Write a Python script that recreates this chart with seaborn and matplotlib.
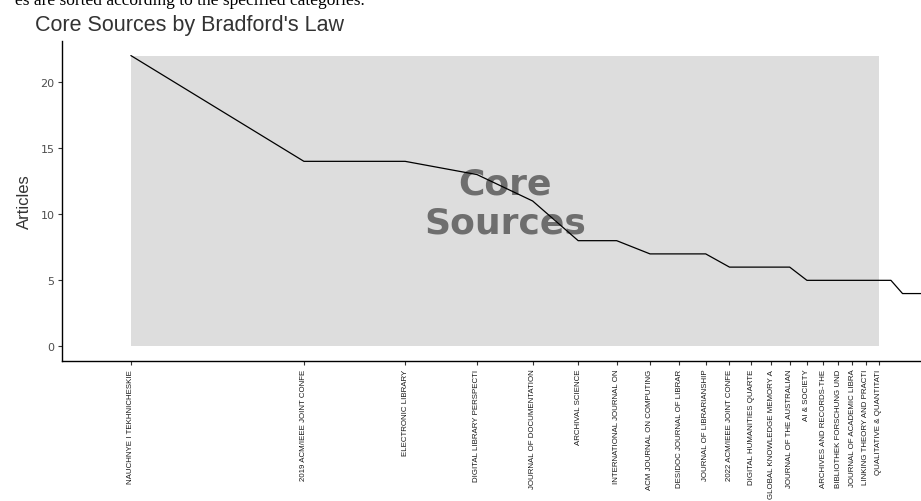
import numpy as np
import pandas as pd
import matplotlib
matplotlib.use("Agg")
import matplotlib.pyplot as plt
from matplotlib import font_manager
import seaborn as sns

# sources ranked by number of articles (only the visible part of the curve)
ranks = list(range(1, 25))
articles = [22, 14, 14, 13, 11, 8, 8, 7, 7, 7, 6, 6, 6, 6,
            5, 5, 5, 5, 5, 5, 5, 4, 4, 4]
source_labels = [
    "NAUCHNYE I TEKHNICHESKIE",
    "2019 ACM/IEEE JOINT CONFE",
    "ELECTRONIC LIBRARY",
    "DIGITAL LIBRARY PERSPECTI",
    "JOURNAL OF DOCUMENTATION",
    "ARCHIVAL SCIENCE",
    "INTERNATIONAL JOURNAL ON",
    "ACM JOURNAL ON COMPUTING",
    "DESIDOC JOURNAL OF LIBRAR",
    "JOURNAL OF LIBRARIANSHIP",
    "2022 ACM/IEEE JOINT CONFE",
    "DIGITAL HUMANITIES QUARTE",
    "GLOBAL KNOWLEDGE MEMORY A",
    "JOURNAL OF THE AUSTRALIAN",
    "AI & SOCIETY",
    "ARCHIVES AND RECORDS-THE",
    "BIBLIOTHEK FORSCHUNG UND",
    "JOURNAL OF ACADEMIC LIBRA",
    "LINKING THEORY AND PRACTI",
    "QUALITATIVE & QUANTITATI",
]
core_zone_size = 20
y_ticks = [0, 5, 10, 15, 20]

df = pd.DataFrame({"rank": ranks, "articles": articles})
df["log_rank"] = np.log(df["rank"])

sns.set_style("ticks")
plt.rcParams["font.family"] = ["Liberation Sans", "DejaVu Sans"]

# narrow font for the source names if there is one
installed = {f.name for f in font_manager.fontManager.ttflist}
if "Liberation Sans Narrow" in installed:
    narrow, narrow_size = "Liberation Sans Narrow", 7
else:
    narrow, narrow_size = "Liberation Sans", 5.7

fig = plt.figure(figsize=(9.21, 5.02), dpi=100)
ax = fig.add_axes([0.0673, 0.2789, 0.9327, 0.6374])

# core zone box
core_x = np.log(core_zone_size)
ax.fill_between([0, core_x], 0, max(articles), color="#dddddd", lw=0, zorder=0)

sns.lineplot(data=df, x="log_rank", y="articles", color="black",
             linewidth=0.9, ax=ax, zorder=3)

ax.text(core_x / 2, 11.56, "Core", ha="center", va="baseline",
        fontsize=26, fontweight="bold", family="DejaVu Sans",
        color="black", alpha=0.5, zorder=2)
ax.text(core_x / 2, 8.62, "Sources", ha="center", va="baseline",
        fontsize=26, fontweight="bold", family="DejaVu Sans",
        color="black", alpha=0.5, zorder=2)

ax.set_xlim(-0.276, 3.165)
ax.set_ylim(-1.1, 23.1)

ax.set_xticks(np.log(ranks[:len(source_labels)]))
ax.set_xticklabels(source_labels, rotation=90, ha="center", va="top",
                   fontsize=narrow_size, color="#1a1a1a", family=narrow)
ax.set_yticks(y_ticks)
ax.set_yticklabels([str(v) for v in y_ticks], fontsize=8,
                   color="#4d4d4d", family="DejaVu Sans")
ax.tick_params(axis="both", length=3, width=0.8, color="#333333", pad=2.5)

ax.set_xlabel("")
ax.set_ylabel("Articles", fontsize=12, color="#333333", labelpad=6,
              family=narrow)

for side in ["top", "right"]:
    ax.spines[side].set_visible(False)
for side in ["left", "bottom"]:
    ax.spines[side].set_color("black")
    ax.spines[side].set_linewidth(1.0)

fig.text(35 / 921, 1 - 31 / 502, "Core Sources by Bradford's Law",
         fontsize=15.5, color="#333333", ha="left", va="baseline")
fig.text(365 / 921, 1 - 5 / 502,
         "es are sorted according to the specified categories.",
         fontsize=12.5, family="Liberation Serif", color="black",
         ha="right", va="baseline")

fig.savefig("out.png", dpi=100)
